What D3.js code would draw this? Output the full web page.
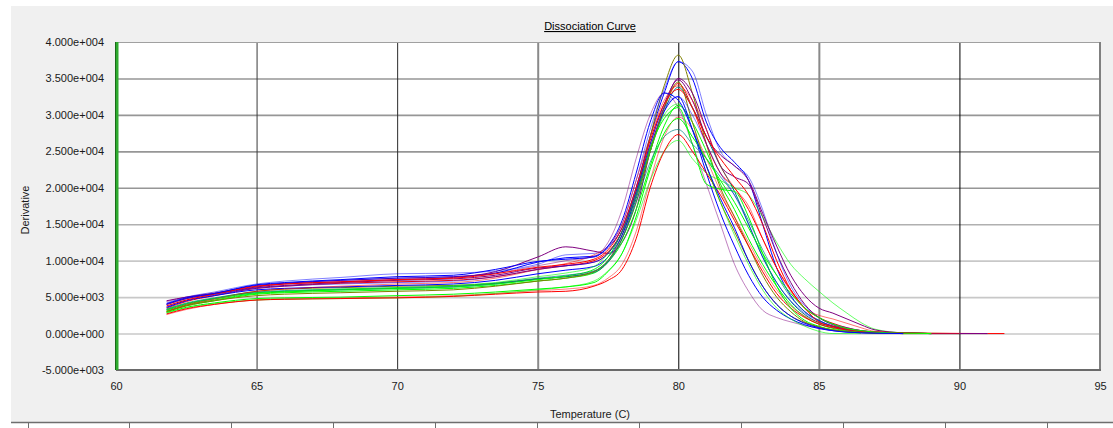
<!DOCTYPE html>
<html>
<head>
<meta charset="utf-8">
<script src="https://cdn.jsdelivr.net/npm/d3@7"></script>
<style>
  body { margin: 0; background: #fff; }
  svg { display: block; font-family: "Liberation Sans", Arial, sans-serif; }
</style>
</head>
<body>
<svg width="1113" height="428"></svg>
<script>
// 温度 (C) の共通サンプル点
const temps = [61.8, 62.5, 63.5, 65, 66, 68, 70, 72, 73.5, 75, 76, 77, 77.5, 78, 78.5, 79, 79.5, 80,
  80.5, 81, 81.5, 82, 82.5, 83, 83.5, 84, 84.5, 85, 85.5, 86, 86.5, 87, 88, 89, 90, 91, 91.6]

// 各ウェルの微分値 (単位: 1e3)、null はデータなし
const wells = [
  [4.0, 4.8, 5.5, 6.6, 6.9, 7.3, 7.6, 7.8, 8.3, 9.8, 10.4, 10.6, 11.8, 14.5, 20, 27, 33, 37.3, 35, 29, 25.5, 23.5, 21, 15, 9, 5.2, 3.0, 1.8, 1.0, 0.6, 0.3, 0.15, 0.05, 0, null, null, null],
  [3.2, 4.0, 4.8, 5.8, 6.1, 6.3, 6.5, 6.6, 6.9, 7.5, 7.8, 8.5, 10, 13.5, 19, 27, 34, 38.2, 33, 26, 20, 16, 12, 8, 5, 3, 1.6, 0.9, 0.5, 0.3, 0.2, 0.1, 0, 0, null, null, null],
  [4.5, 5.0, 5.5, 6.4, 6.8, 7.1, 7.4, 7.7, 8.5, 10.5, 11.9, 11.3, 11.0, 12.5, 17, 25, 31, 35, 33, 28, 23, 21.5, 20.5, 16, 11, 7, 4, 2.2, 1.2, 0.7, 0.4, 0.2, 0.05, 0, 0, null, null],
  [3.5, 4.4, 5.2, 6.2, 6.5, 6.9, 7.1, 7.3, 7.8, 8.8, 9.3, 10.0, 11.2, 14, 19, 25, 31, 34.3, 31, 26, 22, 20, 17, 13, 9, 6, 3.5, 2.2, 1.4, 0.8, 0.4, 0.2, 0.1, 0.05, 0.02, 0, 0],
  [3.0, 3.8, 4.5, 5.4, 5.6, 5.8, 6.0, 6.2, 6.6, 7.2, 7.6, 8.3, 9.8, 12.5, 17, 23, 28.5, 31.3, 29, 25, 20.5, 17, 13, 9.5, 6.5, 4, 2.3, 1.3, 0.7, 0.4, 0.2, 0.1, 0.05, 0.02, 0, null, null],
  [3.3, 4.1, 4.8, 5.6, 5.8, 6.0, 6.2, 6.4, 6.8, 7.5, 7.8, 8.4, 9.8, 13, 18.5, 25, 30.5, 33.8, 31, 27, 23, 19.5, 15, 10.5, 7, 4.4, 2.6, 1.5, 0.9, 0.5, 0.3, 0.15, 0.05, 0, null, null, null],
  [4.2, 5.0, 5.7, 6.8, 7.2, 7.7, 8.2, 8.3, 8.6, 9.5, 10.8, 11.0, 12, 15, 21, 28, 33.5, 37.3, 36, 30, 25, 23, 21.5, 17, 11, 6.5, 3.8, 2.2, 1.3, 0.8, 0.4, 0.2, 0.05, 0, null, null, null],
  [2.6, 3.3, 4.0, 4.6, 4.8, 4.9, 5.0, 5.2, 5.5, 5.9, 6.1, 6.6, 7.6, 9.5, 14, 21, 27, 29.7, 28, 24, 19.5, 16, 12.5, 9, 6, 3.8, 2.4, 1.5, 1.0, 0.6, 0.3, 0.2, 0.1, 0, null, null, null],
  [2.8, 3.5, 4.1, 4.6, 4.7, 4.8, 4.9, 5.1, 5.5, 6.0, 6.4, 7.2, 8.6, 11, 15.5, 21, 25, 26.5, 24, 22, 21, 20, 19, 16, 12.5, 9.5, 7.5, 5.8, 4.2, 2.8, 1.5, 0.6, 0.1, 0, null, null, null],
  [4.4, 5.0, 5.6, 6.5, 6.9, 7.3, 7.6, 7.8, 8.3, 9.3, 10.0, 10.6, 12.5, 17, 24, 30, 33, 31, 26, 20.5, 15, 9.5, 5.8, 3.2, 2.2, 1.6, 1.1, 0.7, 0.4, 0.3, 0.15, 0.05, 0, 0, 0, 0, null],
  [3.6, 4.5, 5.2, 6.0, 6.2, 6.4, 6.6, 6.8, 7.3, 8.2, 8.7, 9.2, 10.5, 13.5, 19, 25.5, 30.5, 32.5, 28, 22, 16.5, 12, 8, 5, 3.2, 2.0, 1.2, 0.7, 0.4, 0.2, 0.1, 0.05, 0, null, null, null, null],
  [2.7, 3.4, 4.0, 4.6, 4.7, 4.8, 4.9, 5.1, 5.4, 5.7, 5.8, 6.5, 7.3, 8.8, 13, 20, 25, 27.3, 25, 22, 19, 15.5, 12, 8.5, 5.5, 3.5, 2.2, 1.3, 0.8, 0.5, 0.3, 0.15, 0.05, 0, null, null, null],
  [3.1, 3.9, 4.6, 5.5, 5.7, 6.0, 6.2, 6.4, 6.8, 7.4, 7.9, 8.8, 10.5, 14, 19.5, 25.5, 29.5, 31, 26, 20.5, 19.8, 19.5, 16, 11, 6.5, 3.5, 1.8, 1.0, 0.5, 0.3, 0.15, 0.05, 0, 0, 0, null, null],
  [3.0, 3.8, 4.5, 5.2, 5.4, 5.6, 5.8, 6.0, 6.5, 7.2, 7.6, 8.5, 10, 13, 18, 25, 31, 34.5, 29, 23, 18, 14, 10, 6.5, 4, 2.4, 1.5, 0.9, 0.5, 0.3, 0.15, 0.05, 0, null, null, null, null],
  [4.0, 4.8, 5.4, 6.3, 6.6, 7.0, 7.3, 7.5, 8.0, 9.0, 9.3, 9.8, 11, 14, 19.5, 26, 31.5, 34.8, 32, 27, 24.5, 23, 21, 16.5, 12, 8, 5.2, 3.5, 2.8, 2.0, 1.2, 0.5, 0.1, 0, 0, 0, null],
  [3.4, 4.2, 4.9, 5.7, 5.9, 6.1, 6.3, 6.5, 6.9, 7.6, 8.0, 8.6, 10, 13, 18, 23.5, 27, 28, 26, 24, 21.5, 19, 15.5, 11.5, 8, 5, 3, 1.8, 1.0, 0.6, 0.3, 0.15, 0.05, 0, null, null, null],
  [3.0, 3.9, 4.7, 5.8, 6.1, 6.5, 6.8, 7.0, 7.6, 8.8, 9.6, 10.8, 12, 15, 21, 27, 32, 34, 32, 28, 23, 20, 17.5, 13, 9, 5.8, 3.4, 2.5, 2.0, 1.4, 0.8, 0.3, 0.1, 0, 0, null, null],
  [3.3, 4.1, 4.8, 5.6, 5.8, 6.1, 6.3, 6.6, 7.0, 7.8, 8.3, 9.2, 11, 14, 19, 25, 30, 31.5, 28, 23, 18, 13.5, 9.5, 6, 3.5, 2, 1.0, 0.3, 0, 0, 0, null, null, null, null, null, null],
  [3.7, 4.6, 5.3, 6.2, 6.5, 6.8, 7.0, 7.2, 7.8, 8.8, 9.3, 9.8, 11, 14, 19.5, 26, 31, 32.5, 30, 26, 22, 19, 15, 10.5, 7, 4.5, 2.8, 1.7, 1.0, 0.6, 0.3, 0.1, 0, null, null, null, null],
  [3.8, 4.6, 5.4, 6.5, 6.8, 7.1, 7.4, 7.6, 8.2, 9.1, 9.5, 10.2, 11.5, 14.5, 20, 26.5, 31.5, 33.5, 31, 27, 24, 21.5, 19, 15, 10, 6, 3.5, 1.6, 1.0, 0.6, 0.3, 0.2, 0.05, 0, null, null, null],
  [2.9, 3.6, 4.2, 4.8, 4.9, 5.0, 5.2, 5.4, 5.7, 6.1, 6.4, 7.0, 8.5, 11, 16, 22.5, 27.5, 29.5, 27, 24, 21, 18, 14.5, 11, 8, 5.5, 3.5, 2.2, 1.3, 0.7, 0.4, 0.2, 0.05, 0, null, null, null],
  [4.1, 4.9, 5.5, 6.7, 7.0, 7.4, 7.8, 8.0, 8.8, 9.9, 10.2, 10.5, 12, 15.5, 22, 29, 33, 32, 28, 23, 18.5, 14.5, 10, 6.5, 4, 2.4, 1.4, 0.8, 0.4, 0.2, 0.1, 0.05, 0, null, null, null, null]
]

const wellColors = ['#0000ff', '#808000', '#800080', '#ff0000', '#00ff00', '#008080',
  'rgba(0,0,255,0.5)', 'rgba(255,0,0,0.5)', 'rgba(0,255,0,0.6)', 'rgba(128,0,128,0.5)',
  '#0000ff', '#ff0000', '#00ff00', '#808000', '#800080', 'rgba(0,128,128,0.7)',
  'rgba(255,0,0,0.55)', 'rgba(0,255,0,0.6)', 'rgba(0,0,255,0.5)', '#ff0000', '#00ff00', '#0000ff']

const xTicks = [60, 65, 70, 75, 80, 85, 90, 95]
const yTicks = [-5000, 0, 5000, 10000, 15000, 20000, 25000, 30000, 35000, 40000]

// 下端のルーラー目盛り位置 (px)
const rulerTicks = [28, 129, 231, 333, 435, 537, 639, 741, 843, 945, 1047]

const svg = d3.select('svg')

// 背景
svg.append('rect').attr('x', 11).attr('y', 6).attr('width', 1102).attr('height', 416).attr('fill', '#f0f0f0')
svg.append('line').attr('x1', 11).attr('x2', 1113).attr('y1', 422.5).attr('y2', 422.5)
  .attr('stroke', '#6e6e6e').attr('stroke-width', 1.5)
svg.selectAll('.ruler').data(rulerTicks).enter().append('line')
  .attr('x1', d => d + 0.5).attr('x2', d => d + 0.5).attr('y1', 423).attr('y2', 428)
  .attr('stroke', '#6e6e6e')

const plotL = 116, plotR = 1100, plotT = 42, plotB = 370
const x = d3.scaleLinear().domain([60, 95]).range([plotL, plotR])
const y = d3.scaleLinear().domain([-5000, 40000]).range([plotB, plotT])

svg.append('rect').attr('x', plotL).attr('y', plotT).attr('width', plotR - plotL).attr('height', plotB - plotT).attr('fill', '#fff')

// 指数表記 4.000e+004 形式
const expFmt = v => {
  const s = d3.format('.3e')(v).replace('−', '-')
  const m = s.match(/^(-?[\d.]+)e([+-])(\d+)$/)
  return m[1] + 'e' + m[2] + m[3].padStart(3, '0')
}

// 横グリッド + y軸ラベル
const yAxis = svg.append('g').attr('transform', `translate(${plotL},0)`)
  .call(d3.axisLeft(y).tickValues(yTicks).tickSize(-(plotR - plotL)).tickPadding(12).tickFormat(expFmt))
yAxis.select('.domain').remove()
yAxis.selectAll('.tick line')
  .attr('stroke', d => d >= 20000 ? '#969696' : (d >= 15000 ? '#b0b0b0' : '#c8c8c8'))
  .attr('stroke-width', 1.6)
  .attr('opacity', d => (d === -5000 || d === 40000) ? 0 : 1)
yAxis.selectAll('.tick text').attr('font-size', 11).attr('fill', '#1a1a1a')
  .attr('font-family', '"Liberation Sans", Arial, sans-serif')

// 縦グリッド + x軸ラベル
const gridStyle = { 65: ['#3a3a3a', 1], 70: ['#2a2a2a', 1], 75: ['#8a8a8a', 2], 80: ['#000', 1], 85: ['#8a8a8a', 2], 90: ['#000', 1] }
const xAxis = svg.append('g').attr('transform', `translate(0,${plotB})`)
  .call(d3.axisBottom(x).tickValues(xTicks).tickSize(-(plotB - plotT)).tickPadding(12).tickFormat(d3.format('d')))
xAxis.select('.domain').remove()
xAxis.selectAll('.tick line')
  .attr('stroke', d => gridStyle[d] ? gridStyle[d][0] : 'none')
  .attr('stroke-width', d => gridStyle[d] ? gridStyle[d][1] : 0)
xAxis.selectAll('.tick text').attr('font-size', 11).attr('fill', '#1a1a1a')
  .attr('font-family', '"Liberation Sans", Arial, sans-serif')

// 枠線
svg.append('line').attr('x1', plotL).attr('x2', plotR).attr('y1', plotT + 0.5).attr('y2', plotT + 0.5).attr('stroke', '#a0a0a0')
svg.append('line').attr('x1', plotR).attr('x2', plotR).attr('y1', plotT).attr('y2', plotB).attr('stroke', '#808080').attr('stroke-width', 2)
svg.append('line').attr('x1', plotL).attr('x2', plotR + 1).attr('y1', plotB).attr('y2', plotB).attr('stroke', '#6a6a6a').attr('stroke-width', 2)

// 曲線
const line = d3.line()
  .defined(d => d[1] !== null)
  .x(d => x(d[0]))
  .y(d => y(d[1] * 1000))
  .curve(d3.curveMonotoneX)

svg.append('g').selectAll('path').data(wells).enter().append('path')
  .attr('d', vals => line(vals.map((v, i) => [temps[i], v])))
  .attr('fill', 'none')
  .attr('stroke', (d, i) => wellColors[i % wellColors.length])
  .attr('stroke-width', 1)

// 左端の緑ライン
svg.append('line').attr('x1', plotL + 1).attr('x2', plotL + 1).attr('y1', plotT).attr('y2', plotB)
  .attr('stroke', '#2eaa2e').attr('stroke-width', 3)
svg.append('line').attr('x1', plotL - 0.5).attr('x2', plotL - 0.5).attr('y1', plotT).attr('y2', plotB)
  .attr('stroke', '#1a6a1a').attr('stroke-width', 1)

// タイトル・軸名
svg.append('text').attr('x', 590).attr('y', 30).attr('text-anchor', 'middle')
  .attr('font-size', 11).attr('fill', '#000').attr('text-decoration', 'underline')
  .text('Dissociation Curve')
svg.append('text').attr('x', 590).attr('y', 418).attr('text-anchor', 'middle')
  .attr('font-size', 11).attr('fill', '#1a1a1a').text('Temperature (C)')
svg.append('text').attr('transform', 'translate(29,210) rotate(-90)').attr('text-anchor', 'middle')
  .attr('font-size', 11).attr('fill', '#1a1a1a').text('Derivative')
</script>
</body>
</html>
